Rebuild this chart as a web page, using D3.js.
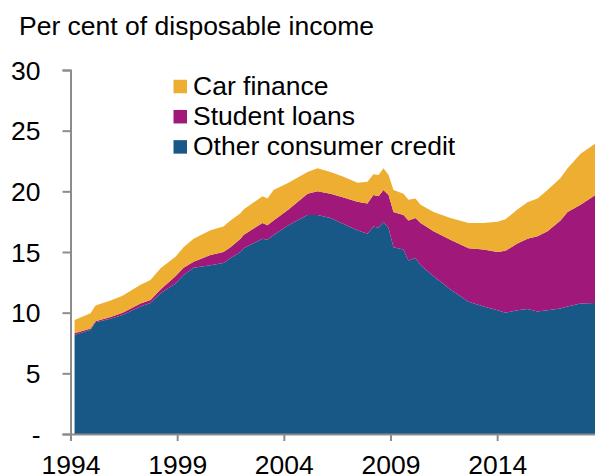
<!DOCTYPE html>
<html>
<head>
<meta charset="utf-8">
<script src="https://cdn.jsdelivr.net/npm/d3@7"></script>
<style>
  html, body { margin: 0; padding: 0; background: #fff; }
  svg { display: block; font-family: "Liberation Sans", Arial, sans-serif; }
</style>
</head>
<body>
<svg id="chart" width="595" height="476"></svg>
<script>
// ---- Data ----
const years = [1994.19, 1994.94, 1995.17, 1995.88, 1996.44, 1997.28, 1997.75, 1998.22, 1998.92, 1999.30,
  1999.77, 2000.56, 2001.17, 2001.50, 2001.97, 2002.11, 2003.00, 2003.23, 2003.52, 2004.22,
  2005.11, 2005.58, 2006.19, 2006.80, 2007.45, 2007.92, 2008.20, 2008.44, 2008.67, 2008.91,
  2009.14, 2009.61, 2009.84, 2010.17, 2010.41, 2011.02, 2011.81, 2012.66, 2013.36, 2014.02,
  2014.39, 2014.95, 2015.42, 2015.89, 2016.36, 2016.97, 2017.30, 2017.91, 2018.61];
const otherCredit = [8.16, 8.6, 9.2, 9.5, 9.8, 10.5, 10.8, 11.6, 12.4, 13.1,
  13.7, 13.9, 14.1, 14.5, 15.0, 15.3, 16.1, 16.0, 16.4, 17.2,
  18.05, 18.05, 17.8, 17.3, 16.8, 16.5, 17.1, 17.0, 17.5, 16.95,
  15.4, 15.2, 14.3, 14.5, 13.9, 13.0, 11.9, 10.9, 10.5, 10.2,
  10.0, 10.2, 10.3, 10.1, 10.2, 10.35, 10.5, 10.75, 10.8];
const studentLoans = [0.14, 0.1, 0.1, 0.15, 0.2, 0.25, 0.25, 0.3, 0.6, 0.6,
  0.5, 0.85, 0.9, 0.9, 1.1, 1.1, 1.3, 1.2, 1.2, 1.3,
  1.75, 1.95, 2.0, 2.2, 2.35, 2.5, 2.6, 2.6, 2.6, 2.75,
  2.9, 2.85, 3.3, 3.3, 3.5, 3.7, 4.1, 4.4, 4.7, 4.8,
  5.1, 5.5, 5.8, 6.2, 6.5, 7.25, 7.8, 8.15, 8.9];
const carFinance = [1.1, 1.25, 1.3, 1.35, 1.4, 1.55, 1.65, 1.76, 1.6, 1.7,
  1.9, 2.05, 2.1, 2.2, 2.1, 2.1, 2.2, 2.2, 2.5, 2.2,
  1.8, 1.9, 1.8, 1.7, 1.55, 1.8, 1.7, 1.75, 1.8, 1.65,
  1.8, 1.75, 1.7, 1.6, 1.5, 1.6, 1.8, 2.1, 2.2, 2.5,
  2.6, 2.8, 3.0, 3.1, 3.4, 3.5, 3.6, 4.2, 4.26];

const seriesKeys = ["other", "student", "car"];
const legendOrder = ["Car finance", "Student loans", "Other consumer credit"];
const yTicks = [0, 5, 10, 15, 20, 25, 30];
const yTickLabels = ["-", "5", "10", "15", "20", "25", "30"];
const xTicks = [1994, 1999, 2004, 2009, 2014];
const title = "Per cent of disposable income";

// ---- Styling ----
const colors = { other: "#185887", student: "#A0197A", car: "#EEAE32" };
const axisColor = "#8c8c8c";
const fontSize = 26.5;

const rows = years.map((yr, i) => ({ year: yr, other: otherCredit[i], student: studentLoans[i], car: carFinance[i] }));

const svg = d3.select("#chart");
const W = 595, H = 476;
const x0 = 70.5, y0 = 434;
const x = d3.scaleLinear().domain([1994, 2019]).range([x0, x0 + 25 * 21.333]);
const y = d3.scaleLinear().domain([0, 30]).range([y0, 70]);

svg.append("defs").append("clipPath").attr("id", "clip")
  .append("rect").attr("x", x0).attr("y", 0).attr("width", W - x0).attr("height", y0);

const stacked = d3.stack().keys(seriesKeys)(rows);
const area = d3.area()
  .x(d => x(d.data.year))
  .y0(d => y(d[0]))
  .y1(d => y(d[1]));

svg.append("g").attr("clip-path", "url(#clip)")
  .selectAll("path").data(stacked).join("path")
  .attr("d", area)
  .attr("fill", d => colors[d.key]);

// Title
svg.append("text").attr("x", 19).attr("y", 34.5)
  .attr("font-size", fontSize).attr("fill", "#000").text(title);

// Y axis
const yAxis = d3.axisLeft(y).tickValues(yTicks).tickSize(8)
  .tickFormat((d, i) => yTickLabels[i]).tickPadding(0);
const gy = svg.append("g").attr("transform", `translate(${x0},0)`).call(yAxis);
gy.select(".domain").attr("stroke", axisColor).attr("stroke-width", 2);
gy.selectAll(".tick line").attr("stroke", axisColor).attr("stroke-width", 2);
gy.selectAll(".tick text").attr("x", -30).attr("dy", "0.35em")
  .attr("font-size", fontSize).attr("font-family", "Liberation Sans, Arial, sans-serif").attr("fill", "#000");

// X axis
const xAxis = d3.axisBottom(x).tickValues(xTicks).tickSize(7).tickFormat(d3.format("d")).tickSizeOuter(0);
const gx = svg.append("g").attr("transform", `translate(0,${y0})`).call(xAxis);
gx.select(".domain").attr("stroke", axisColor).attr("stroke-width", 2);
gx.selectAll(".tick line").attr("stroke", axisColor).attr("stroke-width", 2);
gx.selectAll(".tick text").attr("y", 0).attr("dy", 40)
  .attr("font-size", fontSize).attr("font-family", "Liberation Sans, Arial, sans-serif").attr("fill", "#000");

// Legend
const keyByName = { "Other consumer credit": "other", "Student loans": "student", "Car finance": "car" };
const leg = svg.append("g");
legendOrder.forEach((name, i) => {
  const cy = 86.5 + i * 30.2;
  leg.append("rect").attr("x", 173.5).attr("y", cy - 6.75).attr("width", 13.5).attr("height", 13.5)
    .attr("fill", colors[keyByName[name]]);
  leg.append("text").attr("x", 193).attr("y", cy + 8).attr("font-size", fontSize)
    .attr("fill", "#000").text(name);
});
</script>
</body>
</html>
